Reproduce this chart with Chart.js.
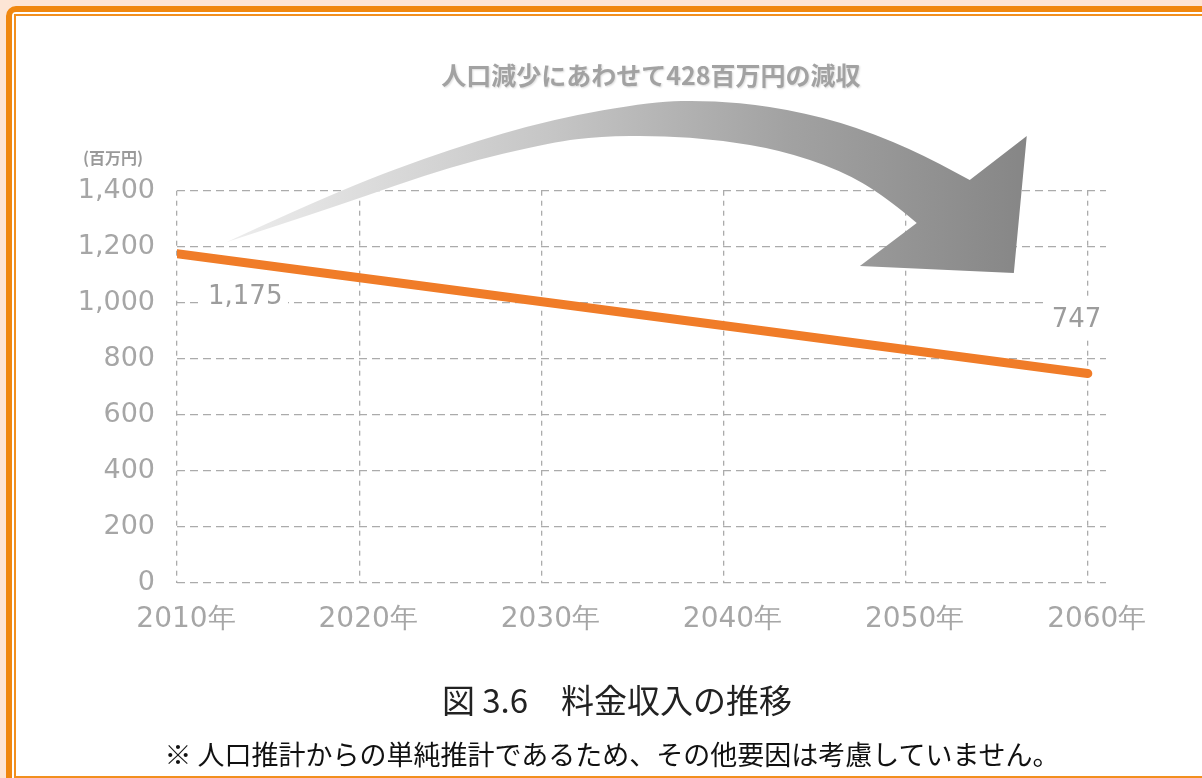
<!DOCTYPE html>
<html>
<head>
<meta charset="utf-8">
<script src="https://cdn.jsdelivr.net/npm/chart.js@4"></script>
<style>
  html, body { margin: 0; padding: 0; }
  body { width: 1202px; height: 778px; overflow: hidden; background: #fde5d5; position: relative;
         font-family: "Noto Sans CJK JP", "Noto Sans", sans-serif; }
  .outer { position: absolute; left: 6px; top: 6px; width: 1300px; height: 900px;
           border: 6px solid #f0870f; border-radius: 10px; background: #fff; box-sizing: border-box; }
  .inner { position: absolute; left: 14px; top: 14px; width: 1300px; height: 764px;
           border: 2px solid #f28f1e; box-sizing: border-box; }
  #chart { position: absolute; left: 0; top: 0; }
  .txt { position: absolute; transform: translate(-50%, -50%); white-space: nowrap; }
  #headline { left: 651px; top: 74px; font-size: 25px; font-weight: bold; color: #a2a2a2;
              text-shadow: 1px 1px 2px rgba(0,0,0,0.15); }
  #unit { left: 113px; top: 157px; font-size: 16px; font-weight: bold; color: #9a9a9a; }
  #caption { left: 617px; top: 699px; font-size: 33px; color: #222; }
  #note { left: 612px; top: 753px; font-size: 27px; color: #111; }
</style>
</head>
<body>
<div class="outer"></div>
<div class="inner"></div>
<canvas id="chart" width="1202" height="778"></canvas>
<div class="txt" id="headline">人口減少にあわせて428百万円の減収</div>
<div class="txt" id="unit">(百万円)</div>
<div class="txt" id="caption">図 3.6　料金収入の推移</div>
<div class="txt" id="note">※ 人口推計からの単純推計であるため、その他要因は考慮していません。</div>
<script>
// revenue forecast (million yen)
const years = [2010, 2060];
const revenue = [1175, 747];
const yearTicks = [2010, 2020, 2030, 2040, 2050, 2060];

// decorative arrow outline, in (year, value) units
const arrowUpper = [
  [2012.74, 1217], [2018.78, 1400], [2025.15, 1552], [2030.64, 1656], [2036.13, 1718],
  [2039.25, 1722], [2042.55, 1702], [2046.39, 1648], [2050.23, 1552], [2053.52, 1438]
];
const arrowHead = [[2056.65, 1595], [2055.94, 1106], [2047.49, 1131], [2050.61, 1285]];
const arrowLower = [
  [2050.61, 1285], [2048.86, 1381], [2046.39, 1474], [2043.10, 1545], [2039.80, 1581],
  [2036.51, 1597], [2033.22, 1594], [2030.64, 1574], [2025.15, 1490], [2018.78, 1345], [2012.74, 1217]
];

const gray = '#a6a6a6';
const yFont = { family: '"DejaVu Sans", sans-serif', size: 27 };
const xFont = { family: '"DejaVu Sans", sans-serif', size: 28 };

function smoothPath(ctx, pts) {
  for (let i = 1; i < pts.length - 1; i++) {
    const mx = (pts[i][0] + pts[i + 1][0]) / 2;
    const my = (pts[i][1] + pts[i + 1][1]) / 2;
    ctx.quadraticCurveTo(pts[i][0], pts[i][1], mx, my);
  }
  const last = pts[pts.length - 1];
  ctx.lineTo(last[0], last[1]);
}

const decorations = {
  id: 'decorations',
  beforeDatasetsDraw(chart) {
    const { ctx, scales: { x, y } } = chart;
    const px = p => [x.getPixelForValue(p[0]), y.getPixelForValue(p[1])];
    const up = arrowUpper.map(px), head = arrowHead.map(px), low = arrowLower.map(px);

    ctx.save();
    const g = ctx.createLinearGradient(up[0][0], 0, head[0][0], 0);
    g.addColorStop(0, '#ededed');
    g.addColorStop(0.4, '#c6c6c6');
    g.addColorStop(0.7, '#a2a2a2');
    g.addColorStop(1, '#868686');
    ctx.fillStyle = g;
    ctx.beginPath();
    ctx.moveTo(up[0][0], up[0][1]);
    smoothPath(ctx, up);
    head.forEach(p => ctx.lineTo(p[0], p[1]));
    smoothPath(ctx, low);
    ctx.closePath();
    ctx.fill();

    // white backing behind the value labels
    ctx.fillStyle = '#fff';
    const p0 = chart.getDatasetMeta(0).data[0];
    const p1 = chart.getDatasetMeta(0).data[1];
    ctx.fillRect(p0.x + 23, p0.y + 31, 88, 26);
    ctx.fillRect(p1.x - 44, p1.y - 74, 66, 40);
    ctx.restore();
  },
  afterDatasetsDraw(chart) {
    const { ctx } = chart;
    const pts = chart.getDatasetMeta(0).data;
    ctx.save();
    ctx.font = '26px "DejaVu Sans", sans-serif';
    ctx.fillStyle = '#9c9c9c';
    ctx.textBaseline = 'middle';
    ctx.textAlign = 'left';
    ctx.fillText(revenue[0].toLocaleString('en-US'), pts[0].x + 31, pts[0].y + 44);
    ctx.fillText(revenue[1].toLocaleString('en-US'), pts[1].x - 36, pts[1].y - 53);
    ctx.restore();
  }
};

new Chart(document.getElementById('chart'), {
  type: 'line',
  data: {
    datasets: [{
      data: years.map((yr, i) => ({ x: yr, y: revenue[i] })),
      borderColor: '#f07c28',
      borderWidth: 9,
      borderCapStyle: 'round',
      pointRadius: 0,
      tension: 0
    }]
  },
  options: {
    responsive: false,
    animation: false,
    layout: { padding: { left: 0, top: 190.7, right: 96, bottom: 0 } },
    plugins: { legend: { display: false }, tooltip: { enabled: false } },
    scales: {
      x: {
        type: 'linear',
        min: 2010,
        max: 2061,
        afterBuildTicks: s => { s.ticks = yearTicks.map(v => ({ value: v })); },
        afterFit: s => { s.height = 778 - 582.7; },
        ticks: {
          includeBounds: false,
          padding: 20,
          labelOffset: 9,
          color: gray,
          font: xFont,
          maxRotation: 0,
          callback: v => v + '年'
        },
        grid: { color: '#ababab', lineWidth: 1.3, drawTicks: false },
        border: { display: false, dash: [5, 5] }
      },
      y: {
        min: 0,
        max: 1400,
        afterFit: s => { s.width = 177; },
        ticks: {
          stepSize: 200,
          padding: 22,
          color: gray,
          font: yFont,
          callback: v => v.toLocaleString('en-US')
        },
        grid: { color: '#ababab', lineWidth: 1.3, drawTicks: false },
        border: { display: false, dash: [8, 5] }
      }
    }
  },
  plugins: [decorations]
});
</script>
</body>
</html>
